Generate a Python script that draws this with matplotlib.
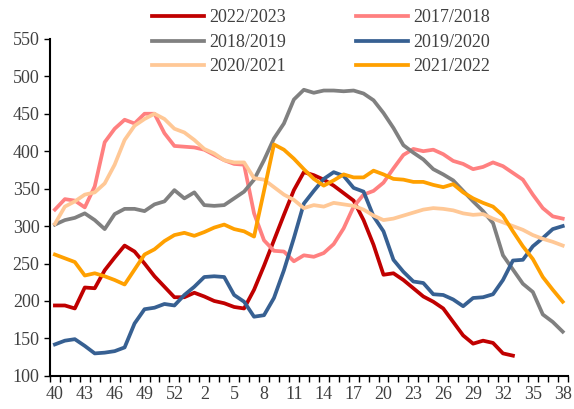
import numpy as np
import matplotlib
matplotlib.use("Agg")
import matplotlib.pyplot as plt

plt.rcParams['font.family'] = ['Liberation Serif', 'DejaVu Serif']

# week labels: 40..53 then 1..38
weeks = list(range(40, 54)) + list(range(1, 39))

s2223 = [194, 194, 190, 218, 217, 241, 258, 274, 266, 250, 233, 219, 205, 205, 211, 206, 200, 197,
         192, 190, 215, 247, 281, 315, 348, 372, 368, 362, 354, 344, 334, 308, 275, 235, 237, 228,
         217, 206, 199, 190, 172, 154, 143, 147, 144, 130, 127]
s1718 = [322, 336, 334, 325, 353, 412, 430, 442, 437, 450, 450, 424, 407, 406, 405, 402, 395, 388,
         383, 382, 317, 281, 267, 266, 253, 261, 259, 264, 276, 297, 326, 342, 347, 358, 377, 395,
         403, 400, 402, 396, 387, 383, 376, 379, 385, 380, 371, 362, 342, 324, 313, 310]
s1819 = [302, 308, 311, 317, 308, 296, 316, 323, 323, 320, 329, 333, 348, 337, 345, 328, 327, 328,
         337, 346, 362, 388, 417, 437, 469, 482, 478, 481, 481, 480, 481, 477, 468, 451, 431, 408,
         398, 389, 376, 369, 361, 347, 333, 320, 304, 261, 242, 223, 212, 182, 172, 159]
s1920 = [142, 147, 149, 140, 130, 131, 133, 138, 170, 189, 191, 196, 194, 208, 219, 232, 233, 232,
         208, 199, 179, 181, 204, 241, 284, 330, 347, 363, 372, 367, 351, 346, 313, 293, 255, 239,
         226, 224, 209, 208, 202, 193, 204, 205, 209, 228, 254, 255, 273, 284, 296, 300]
s2021 = [303, 326, 333, 342, 345, 357, 382, 415, 434, 443, 450, 443, 430, 425, 415, 403, 397, 388,
         385, 385, 364, 362, 352, 342, 335, 324, 328, 326, 331, 329, 327, 322, 314, 308, 310, 314,
         318, 322, 324, 323, 321, 317, 315, 316, 310, 305, 300, 295, 288, 283, 279, 274]
s2122 = [262, 257, 252, 234, 237, 233, 228, 222, 242, 262, 269, 280, 288, 291, 287, 292, 298, 302,
         296, 293, 286, 347, 409, 402, 390, 376, 363, 354, 361, 369, 365, 365, 374, 369, 363, 362,
         359, 359, 355, 352, 356, 345, 337, 331, 326, 314, 293, 273, 256, 232, 215, 199]

series = [
    ("2022/2023", s2223, "#C00000"),
    ("2017/2018", s1718, "#FF8080"),
    ("2018/2019", s1819, "#808080"),
    ("2019/2020", s1920, "#376092"),
    ("2020/2021", s2021, "#FFC896"),
    ("2021/2022", s2122, "#FFA000"),
]

txt = "#404040"
fig = plt.figure(figsize=(5.74, 4.09), dpi=100)
ax = fig.add_axes([0.087, 0.081, 0.902, 0.824])

lines = {}
for name, vals, col in series:
    ln, = ax.plot(np.arange(len(vals)), vals, color=col, lw=2.7, label=name)
    lines[name] = ln

ax.set_xlim(-0.5, len(weeks) - 0.5)
ax.set_ylim(100, 550)
ax.set_yticks(range(100, 551, 50))
xt = np.arange(len(weeks))[::3]
ax.set_xticks(xt)
ax.set_xticklabels([str(weeks[i]) for i in xt])
ax.set_xticks(np.arange(-0.5, len(weeks), 1), minor=True)
ax.tick_params(axis='x', which='major', length=0, pad=7, labelsize=13, labelcolor=txt)
ax.tick_params(axis='x', which='minor', length=4, width=1, direction='out')
ax.tick_params(axis='y', length=4, width=1, direction='out', labelsize=13, labelcolor=txt)

for s in ['top', 'right']:
    ax.spines[s].set_visible(False)
for s in ['left', 'bottom']:
    ax.spines[s].set_linewidth(1.5)

order = ["2022/2023", "2018/2019", "2020/2021", "2017/2018", "2019/2020", "2021/2022"]
leg = fig.legend([lines[n] for n in order], order, ncol=2, loc='upper center',
                 bbox_to_anchor=(0.559, 0.995), frameon=False, fontsize=13,
                 handlelength=2.9, handletextpad=0.25, columnspacing=3.9,
                 labelspacing=0.42, borderaxespad=0)
for t in leg.get_texts():
    t.set_color(txt)

fig.savefig("out.png", dpi=100)
